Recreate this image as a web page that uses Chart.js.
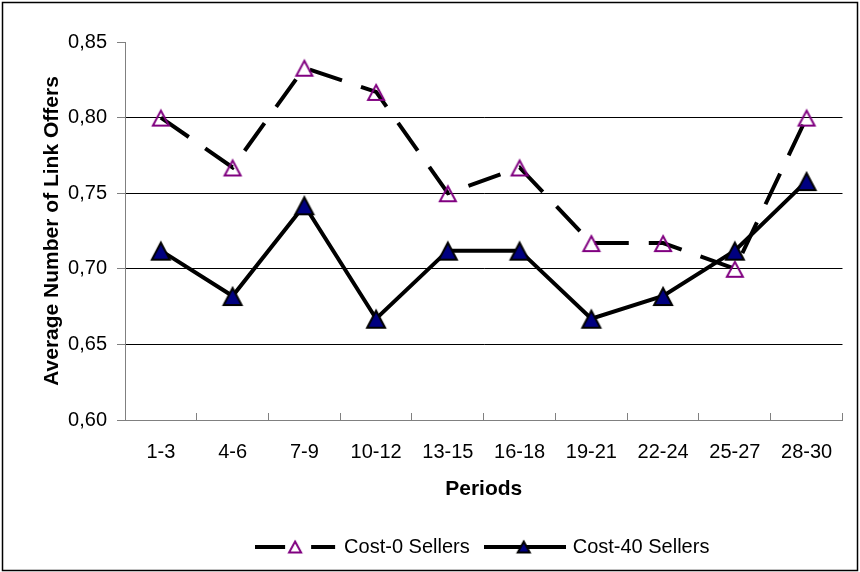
<!DOCTYPE html>
<html>
<head>
<meta charset="utf-8">
<script src="https://cdn.jsdelivr.net/npm/chart.js@4/dist/chart.umd.min.js"></script>
<style>
  html, body { margin: 0; padding: 0; background: #fff; }
  #wrap { width: 860px; height: 572px; }
</style>
</head>
<body>
<div id="wrap"><canvas id="c" width="860" height="572"></canvas></div>
<script>
// data
const periods = ['1-3', '4-6', '7-9', '10-12', '13-15', '16-18', '19-21', '22-24', '25-27', '28-30'];
const cost0Sellers = [0.800, 0.767, 0.833, 0.817, 0.750, 0.767, 0.717, 0.717, 0.700, 0.800];
const cost40Sellers = [0.712, 0.682, 0.742, 0.667, 0.712, 0.712, 0.667, 0.682, 0.712, 0.758];
const seriesNames = ['Cost-0 Sellers', 'Cost-40 Sellers'];

const FONT = 'Liberation Sans, Arial, sans-serif';

// triangle centred on its bounding box (like the Excel marker)
function triangle(g, cx, cy, w, h, fill, stroke, lw) {
  g.beginPath();
  g.moveTo(cx, cy - h / 2);
  g.lineTo(cx + w / 2, cy + h / 2);
  g.lineTo(cx - w / 2, cy + h / 2);
  g.closePath();
  if (fill) { g.fillStyle = fill; g.fill(); }
  g.lineWidth = lw;
  g.strokeStyle = stroke;
  g.stroke();
}

function markerIcon(w, h, fill, stroke) {
  const cv = document.createElement('canvas');
  cv.width = 28; cv.height = 28;
  triangle(cv.getContext('2d'), 14, 14.5, w, h, fill, stroke, 2);
  return cv;
}

// little line + marker pictures for the legend
function legendIcon(dashed, fill, stroke) {
  const cv = document.createElement('canvas');
  cv.width = 82; cv.height = 24;
  const g = cv.getContext('2d');
  g.strokeStyle = '#000';
  g.lineWidth = 4;
  g.beginPath();
  if (dashed) {
    g.moveTo(0, 12); g.lineTo(30, 12);
    g.moveTo(56, 12); g.lineTo(80, 12);
  } else {
    g.moveTo(0, 12); g.lineTo(82, 12);
  }
  g.stroke();
  triangle(g, 40, 12, 12, 11, fill, stroke, 2);
  return cv;
}

const markers = [markerIcon(16, 15, null, '#800080'), markerIcon(18, 17, '#000080', '#000')];
const legendIcons = [legendIcon(true, null, '#800080'), legendIcon(false, '#000080', '#000')];

const frame = {
  id: 'frame',
  beforeDraw(chart) {
    const ctx = chart.ctx;
    ctx.save();
    ctx.fillStyle = '#fff';
    ctx.fillRect(0, 0, chart.width, chart.height);
    ctx.restore();
  },
  afterDraw(chart) {
    const ctx = chart.ctx;
    ctx.save();
    ctx.strokeStyle = '#000';
    ctx.lineWidth = 1.5;
    ctx.strokeRect(2.5, 2.5, 855, 568);
    ctx.restore();
  }
};

new Chart(document.getElementById('c'), {
  type: 'line',
  data: {
    labels: periods,
    datasets: [
      {
        label: seriesNames[0],
        data: cost0Sellers,
        order: 1,
        borderColor: '#000',
        borderWidth: 4,
        borderDash: [34, 20],
        borderCapStyle: 'butt',
        fill: false,
        tension: 0,
        pointStyle: markers[0],
        pointRadius: 10
      },
      {
        label: seriesNames[1],
        data: cost40Sellers,
        order: 0,
        borderColor: '#000',
        borderWidth: 4,
        fill: false,
        tension: 0,
        pointStyle: markers[1],
        pointRadius: 12
      }
    ]
  },
  options: {
    responsive: false,
    animation: false,
    layout: { padding: { left: 0, top: 42, right: 14, bottom: 5 } },
    plugins: {
      tooltip: { enabled: false },
      legend: {
        position: 'bottom',
        fullSize: false,
        labels: {
          usePointStyle: true,
          pointStyleWidth: 76,
          padding: 17,
          color: '#000',
          font: { family: FONT, size: 20 },
          generateLabels: (chart) => chart.data.datasets.map((ds, i) => ({
            text: ds.label,
            pointStyle: legendIcons[i],
            datasetIndex: i,
            hidden: false,
            fillStyle: 'rgba(0,0,0,0)',
            strokeStyle: 'rgba(0,0,0,0)',
            lineWidth: 0,
            fontColor: '#000'
          }))
        }
      }
    },
    scales: {
      x: {
        offset: true,
        afterFit: (s) => { s.height = 100; },
        grid: {
          display: true,
          offset: true,
          drawOnChartArea: false,
          drawTicks: true,
          tickLength: -7,
          tickColor: '#808080'
        },
        border: { display: true, color: '#808080', width: 1 },
        ticks: {
          color: '#000',
          padding: 27,
          maxRotation: 0,
          autoSkip: false,
          font: { family: FONT, size: 20 }
        },
        title: {
          display: true,
          text: 'Periods',
          color: '#000',
          padding: { top: 0, bottom: 18 },
          font: { family: FONT, size: 21, weight: 'bold' }
        }
      },
      y: {
        min: 0.6,
        max: 0.85,
        afterFit: (s) => { s.width = 125; },
        grid: {
          color: (c) => (c.tick && Math.abs(c.tick.value - 0.85) < 1e-6) ? 'rgba(0,0,0,0)' : '#000',
          lineWidth: 1,
          tickLength: 8,
          tickColor: '#808080'
        },
        border: { display: true, color: '#808080', width: 1 },
        ticks: {
          stepSize: 0.05,
          padding: 10,
          color: '#000',
          font: { family: FONT, size: 20 },
          callback: (v) => Number(v).toFixed(2).replace('.', ',')
        },
        title: {
          display: true,
          text: 'Average Number of Link Offers',
          color: '#000',
          padding: { top: 40, bottom: 0 },
          font: { family: FONT, size: 21, weight: 'bold' }
        }
      }
    }
  },
  plugins: [frame]
});
</script>
</body>
</html>
